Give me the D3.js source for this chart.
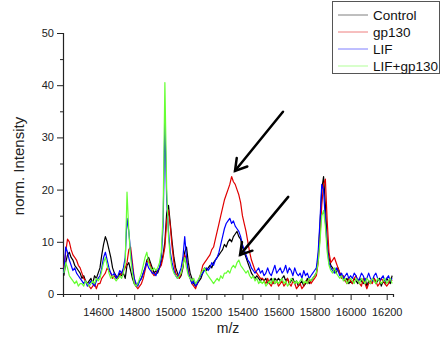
<!DOCTYPE html>
<html>
<head>
<meta charset="utf-8">
<script src="https://cdn.jsdelivr.net/npm/d3@7"></script>
<style>
  body { margin: 0; background: #fff; }
  svg { display: block; font-family: "Liberation Sans", Arial, sans-serif; }
</style>
</head>
<body>
<svg id="chart" width="444" height="342"></svg>
<script>
// m/z grid, 10 units apart (14410 .. 16230)
const mzStart = 14410, mzStep = 10;

// values, one row per 100 m/z
const control = [
  3.5, 6, 7.5, 8, 7, 6.5, 5.5, 5, 4.5, 4,
  3, 3.5, 2.5, 2, 2.5, 3, 2, 3.5, 3, 4,
  5, 7.5, 9.5, 11, 10, 8.5, 7, 5, 4, 3.5,
  3, 4, 3.5, 4, 3, 5.5, 6, 4.5, 3, 2,
  1.5, 2, 2.5, 3, 4, 5, 6.5, 7, 6, 5,
  4, 4.5, 4, 5, 6, 7.5, 10, 15.5, 17, 13.5,
  10, 7, 5, 4, 3, 3.5, 5, 8, 9, 6,
  4, 3, 2, 1.5, 2, 2.5, 3, 4, 5, 4.5,
  5, 5.5, 5, 6, 6.5, 7, 7.5, 8, 8.5, 9.5,
  9, 10, 10.5, 10, 11, 11.5, 12, 11, 10.5, 9,
  8, 7, 6, 5, 4, 3.5, 3, 3.5, 3, 2.5,
  3, 2.5, 3, 2, 2.5, 3, 2, 3, 2.5, 3,
  2.5, 3, 3.5, 2.5, 3, 2, 2.5, 3, 2, 2.5,
  1.5, 2, 2.5, 1.5, 2, 3, 2, 2.5, 3, 3.5,
  4, 7, 13, 20, 22.5, 17, 10, 7, 5.5, 5,
  4.5, 4, 5, 4, 3.5, 3, 2.5, 3, 2, 2.5,
  2, 3, 2.5, 2, 3, 2.5, 2, 3, 1.5, 2.5,
  2, 2.5, 3, 2, 2.5, 3, 1.5, 2.5, 2, 3,
  2.5, 2, 3.5
];
const gp130 = [
  5, 8, 10.5, 10, 8.5, 7.5, 7, 6.5, 5.5, 5,
  4, 3, 2.5, 2, 1.5, 1, 1.5, 2, 1, 2,
  2, 3, 3.5, 4, 5, 4.5, 4, 3, 3.5, 3,
  3, 3.5, 4, 4.5, 5, 6, 8.5, 9, 6, 3,
  1.5, 1, 1.5, 2, 3, 4.5, 6, 6.5, 5.5, 4,
  3.5, 4, 4.5, 5, 5.5, 7, 9, 14, 16, 13,
  9, 6, 4, 3.5, 3, 4, 5.5, 7.5, 6.5, 4.5,
  3, 2, 1.5, 1, 2, 3, 4, 5.5, 6, 6.5,
  7, 7.5, 8.5, 9, 10.5, 12, 13.5, 15, 16.5, 18,
  19, 20, 21, 22.5, 21.5, 21, 20, 19, 17.5, 15,
  13.5, 12, 10, 8, 6.5, 5.5, 4.5, 4, 3.5, 3,
  3, 2.5, 2, 3, 2, 1.5, 2.5, 2, 2.5, 1.5,
  2, 2.5, 1.5, 2, 3, 2, 1.5, 2.5, 2, 1,
  1.5, 2, 1, 1.5, 2.5, 2, 3, 2, 2.5, 3,
  3.5, 6, 11, 17, 21, 22, 14, 8, 6, 6.5,
  7, 6, 5, 4, 3, 3.5, 2.5, 2, 3, 2.5,
  2, 3, 3.5, 2.5, 2, 1.5, 3, 2, 1, 2,
  2.5, 2, 3, 2.5, 1.5, 2, 3, 2.5, 2, 1.5,
  2, 3, 2.5
];
const lif = [
  4, 9, 8, 6.5, 5.5, 4.5, 5, 4, 3.5, 3,
  2.5, 2, 2.5, 1.5, 2, 2.5, 2, 1.5, 2.5, 3,
  3.5, 5, 7, 8, 6.5, 5, 4, 3.5, 4, 3,
  3.5, 4.5, 4, 5, 7, 14.5, 12, 8, 5, 3,
  2, 1.5, 2.5, 3, 4, 5, 6, 5, 4.5, 4,
  4, 3.5, 4.5, 5, 7, 13, 33, 18, 12, 8,
  6, 4.5, 3.5, 3, 4, 5, 7, 11, 7, 4,
  3, 2, 2.5, 1.5, 2, 3, 3.5, 4, 4.5, 5,
  4.5, 5, 6, 5.5, 6.5, 7, 8, 9.5, 11, 12.5,
  13.5, 14, 14.5, 13.5, 14, 13, 12.5, 12, 11, 9.5,
  8.5, 7.5, 6.5, 6, 5, 4.5, 4, 4.5, 5, 4,
  4.5, 3.5, 4, 5, 4, 3.5, 4.5, 5.5, 4, 4.5,
  5, 4, 4.5, 5.5, 4, 5, 4.5, 3.5, 5, 4,
  3.5, 4, 3, 4.5, 3.5, 4, 3, 3.5, 4, 4.5,
  5, 8, 14, 21, 20, 14, 9, 6, 5, 4.5,
  4, 5, 4.5, 3.5, 4, 3, 3.5, 4, 3, 3.5,
  3, 4, 3.5, 2.5, 3, 4, 3.5, 2.5, 3, 4,
  3, 2.5, 3.5, 4, 3, 2.5, 3, 3.5, 2.5, 3,
  3.5, 2.5, 3
];
const lifGp130 = [
  4, 6, 5, 3.5, 3, 2.5, 2, 2.5, 1.5, 2,
  2, 1.5, 2.5, 2, 1.5, 2, 2.5, 2, 3, 2.5,
  3, 4.5, 6, 7, 5.5, 4, 3, 3.5, 3, 2.5,
  3, 3.5, 3, 4, 6, 19.5, 12, 7, 4, 2,
  1.5, 2, 3, 4, 5.5, 7, 8, 6, 5, 4.5,
  5, 4.5, 5, 6, 8, 15, 40.5, 20, 11, 7,
  5, 4, 3.5, 3, 3.5, 4, 5.5, 7, 5, 3.5,
  3, 2.5, 3, 2, 2.5, 3, 4, 4.5, 5, 4,
  3.5, 3, 2.5, 2, 2.5, 3, 2.5, 3.5, 3, 4,
  4, 4.5, 4, 5, 5.5, 5, 6, 6.5, 5.5, 5,
  4.5, 4, 4.5, 3.5, 3, 3.5, 2.5, 3, 2, 2.5,
  2, 2.5, 1.5, 2, 2.5, 2, 3, 2, 2.5, 2,
  2.5, 3, 2, 2.5, 1.5, 2, 3, 2.5, 2, 2.5,
  2, 2.5, 3, 2, 2.5, 2, 3, 2.5, 3, 3.5,
  4, 6, 10, 15, 16, 13, 8, 5.5, 4.5, 4,
  5, 4, 3.5, 3, 3.5, 2.5, 3, 2, 2.5, 3,
  2.5, 2, 3, 2.5, 2, 3, 2.5, 2, 3, 2.5,
  2, 3, 2.5, 2, 3, 2.5, 2, 2.5, 3, 2,
  2.5, 3, 2
];

const seriesNames = ["Control", "gp130", "LIF", "LIF+gp130"];
const seriesColors = ["#000000", "#e00000", "#0000ff", "#66ff33"];
const seriesValues = [control, gp130, lif, lifGp130];

const xTicks = [14600, 14800, 15000, 15200, 15400, 15600, 15800, 16000, 16200];
const yTicks = [0, 10, 20, 30, 40, 50];

// arrows: [from m/z, from value, to m/z, to value]
const arrows = [
  [15625, 34.9, 15359, 23.6],
  [15654, 18.6, 15387, 7.5]
];

const svg = d3.select("#chart");

const x = d3.scaleLinear().domain([14405, 16235]).range([63, 393]);
const y = d3.scaleLinear().domain([0, 50]).range([294, 33]);

//axes
const xAxis = svg.append("g").attr("transform", "translate(0,294)");
xAxis.call(d3.axisBottom(x).tickValues(d3.range(14500, 16201, 100)).tickSize(3).tickFormat(""));
xAxis.call(g => g.selectAll(".tick").filter(d => xTicks.includes(d)).select("line").attr("y2", 6));
xAxis.append("g").call(d3.axisBottom(x).tickValues(xTicks).tickSize(0).tickPadding(14).tickFormat(d3.format("d")))
  .call(g => g.select(".domain").remove());

const yAxis = svg.append("g").attr("transform", "translate(63,0)");
yAxis.call(d3.axisLeft(y).tickValues(d3.range(0, 51, 5)).tickSize(3).tickFormat(""));
yAxis.call(g => g.selectAll(".tick").filter(d => yTicks.includes(d)).select("line").attr("x2", -6));
yAxis.append("g").call(d3.axisLeft(y).tickValues(yTicks).tickSize(0).tickPadding(9))
  .call(g => g.select(".domain").remove());

svg.selectAll(".domain").attr("stroke", "#222").attr("stroke-width", 1.2);
svg.selectAll(".tick line").attr("stroke", "#222");
svg.selectAll(".tick text").attr("font-size", 11).attr("fill", "#222")
  .attr("font-family", "'Liberation Sans', Arial, sans-serif");

//axis titles
svg.append("text").attr("x", 228).attr("y", 333).attr("text-anchor", "middle")
  .attr("font-size", 14).attr("fill", "#222").text("m/z");
svg.append("text").attr("transform", "translate(24,166) rotate(-90)").attr("text-anchor", "middle")
  .attr("font-size", 15).attr("fill", "#222").text("norm. Intensity");

//spectra
const line = d3.line()
  .x((d, i) => x(mzStart + i * mzStep))
  .y(d => y(d));

svg.append("g").selectAll("path")
  .data(seriesValues)
  .enter()
  .append("path")
  .attr("d", d => line(d))
  .attr("fill", "none")
  .attr("stroke", (d, i) => seriesColors[i])
  .attr("stroke-width", 1.2)
  .attr("stroke-linejoin", "round");

//arrows
const arrowG = svg.append("g").attr("stroke", "#000").attr("stroke-width", 2.5)
  .attr("fill", "none").attr("stroke-linecap", "round");
arrows.forEach(a => {
  const x0 = x(a[0]), y0 = y(a[1]), x1 = x(a[2]), y1 = y(a[3]);
  const ang = Math.atan2(y1 - y0, x1 - x0);
  const len = 13, spread = 0.55;
  arrowG.append("line").attr("x1", x0).attr("y1", y0).attr("x2", x1).attr("y2", y1);
  arrowG.append("path").attr("d",
    "M" + (x1 - len * Math.cos(ang - spread)) + "," + (y1 - len * Math.sin(ang - spread)) +
    "L" + x1 + "," + y1 +
    "L" + (x1 - len * Math.cos(ang + spread)) + "," + (y1 - len * Math.sin(ang + spread)));
});

//legend
const legend = svg.append("g");
legend.append("rect").attr("x", 332.5).attr("y", 1.5).attr("width", 107).attr("height", 72)
  .attr("fill", "#fff").attr("stroke", "#555").attr("stroke-width", 1);
seriesNames.forEach((name, i) => {
  const ly = 15 + i * 17;
  legend.append("line").attr("x1", 338).attr("x2", 368).attr("y1", ly).attr("y2", ly)
    .attr("stroke", seriesColors[i]).attr("stroke-width", 1).attr("opacity", 0.5);
  legend.append("text").attr("x", 373).attr("y", ly + 5).attr("font-size", 13.5)
    .attr("fill", "#111").text(name);
});
</script>
</body>
</html>
